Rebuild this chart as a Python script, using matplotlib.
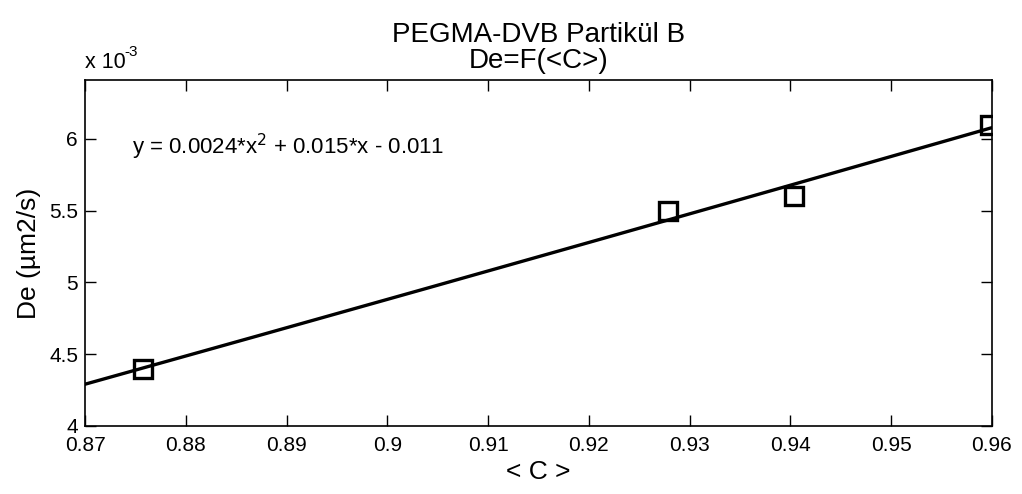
import numpy as np
import matplotlib
matplotlib.use("Agg")
import matplotlib.pyplot as plt
from matplotlib.ticker import FuncFormatter

plt.rcParams['font.family'] = ['Liberation Sans', 'DejaVu Sans']

# Data
c_vals = [0.8758, 0.9279, 0.9404, 0.9598]
de_vals = [4.40e-3, 5.50e-3, 5.60e-3, 6.10e-3]
x_ticks = [0.87, 0.88, 0.89, 0.90, 0.91, 0.92, 0.93, 0.94, 0.95, 0.96]
y_ticks = [4.0e-3, 4.5e-3, 5.0e-3, 5.5e-3, 6.0e-3]

coef = np.polyfit(c_vals, de_vals, 2)
xf = np.linspace(0.87, 0.96, 300)
yf = np.polyval(coef, xf)

fig = plt.figure(figsize=(10.22, 4.94), dpi=100)
ax = fig.add_axes([0.0832, 0.1377, 0.8874, 0.7003])

ax.plot(xf, yf, color='black', lw=2.4)
ax.plot(c_vals, de_vals, linestyle='none', marker='s', markersize=13,
        markerfacecolor='none', markeredgecolor='black', markeredgewidth=2.4)

ax.set_xlim(0.87, 0.96)
ax.set_ylim(4.0e-3, 6.41e-3)
ax.set_xticks(x_ticks)
ax.set_yticks(y_ticks)
ax.xaxis.set_major_formatter(FuncFormatter(lambda v, p: '%g' % round(v, 4)))
ax.yaxis.set_major_formatter(FuncFormatter(lambda v, p: '%g' % round(v * 1e3, 4)))
ax.tick_params(direction='in', length=8, width=1, top=True, right=True,
               labelsize=15, colors='black')
ax.tick_params(axis='x', pad=7)
ax.tick_params(axis='y', pad=5)
for s in ax.spines.values():
    s.set_linewidth(1.2)

ax.set_xlabel('< C >', fontsize=19, labelpad=4)
ax.set_ylabel('De (\u00b5m2/s)', fontsize=19, labelpad=6)
ax.set_title('PEGMA-DVB Partik\u00fcl B\nDe=F(<C>)', fontsize=20, pad=9, linespacing=0.98)

fig.text(85/1022, 1 - 68/494, 'x 10', fontsize=15.5, ha='left', va='baseline')
fig.text(124/1022, 1 - 56/494, '-3', fontsize=11, ha='left', va='baseline')
ax.text(0.052, 0.806, 'y = 0.0024*x$^2$ + 0.015*x - 0.011', transform=ax.transAxes,
        fontsize=16, ha='left', va='center')

fig.savefig('out.png', dpi=100)
